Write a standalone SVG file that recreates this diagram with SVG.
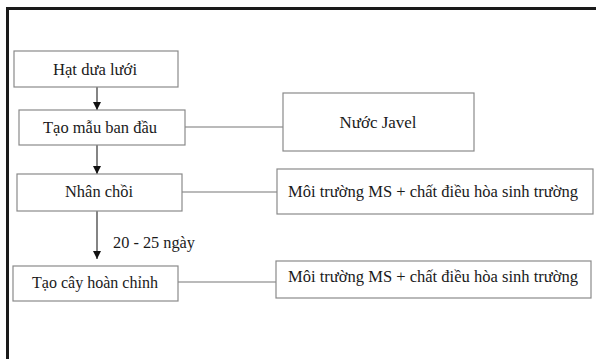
<svg xmlns="http://www.w3.org/2000/svg" width="596" height="359" viewBox="0 0 596 359">
<style>
.box{fill:#fff;stroke:#8a8a8a;stroke-width:1.2}
.t{font-family:"Liberation Serif","Times New Roman",serif;font-size:16px;fill:#1a1a1a;text-anchor:middle}
.ln{stroke:#777;stroke-width:1.2;fill:none}
.ar{stroke:#333;stroke-width:1.2;fill:none;marker-end:url(#ah)}
</style>
<defs>
<marker id="ah" viewBox="0 0 8 8" refX="8" refY="4" markerWidth="8" markerHeight="8" markerUnits="userSpaceOnUse" orient="auto">
<path d="M0,0 L8,4 L0,8 Z" fill="#111"/>
</marker>
</defs>
<rect width="596" height="359" fill="#fff"/>
<g id="frame">
<path d="M7.5,359 V8.5 H596" fill="none" stroke="#1a1a1a" stroke-width="3"/>
</g>
<g id="connectors">
<line class="ar" x1="97" y1="87" x2="97" y2="110"/>
<line class="ar" x1="97" y1="145" x2="97" y2="174"/>
<line class="ar" x1="97" y1="211" x2="97" y2="259"/>
<line class="ln" x1="185" y1="127" x2="283" y2="127"/>
<line class="ln" x1="182" y1="192" x2="277" y2="192"/>
<line class="ln" x1="178" y1="282" x2="276" y2="282"/>
<text class="t" x="154" y="248" textLength="82" lengthAdjust="spacingAndGlyphs">20 - 25 ngày</text>
</g>
<g id="n1">
<rect class="box" x="14" y="51" width="164" height="36"/>
<text class="t" x="95" y="75" textLength="84" lengthAdjust="spacingAndGlyphs">Hạt dưa lưới</text>
</g>
<g id="n2">
<rect class="box" x="19" y="110" width="166" height="35"/>
<text class="t" x="100" y="133" textLength="114" lengthAdjust="spacingAndGlyphs">Tạo mẫu ban đầu</text>
</g>
<g id="n3">
<rect class="box" x="17" y="174" width="165" height="37"/>
<text class="t" x="99" y="197" textLength="68" lengthAdjust="spacingAndGlyphs">Nhân chồi</text>
</g>
<g id="n4">
<rect class="box" x="13" y="266" width="165" height="35"/>
<text class="t" x="95" y="288" textLength="126" lengthAdjust="spacingAndGlyphs">Tạo cây hoàn chỉnh</text>
</g>
<g id="n5">
<rect class="box" x="283" y="93" width="191" height="58"/>
<text class="t" x="378" y="128" textLength="77" lengthAdjust="spacingAndGlyphs">Nước Javel</text>
</g>
<g id="n6">
<rect class="box" x="277" y="169" width="316" height="45"/>
<text class="t" x="433" y="197" textLength="290" lengthAdjust="spacingAndGlyphs">Môi trường MS + chất điều hòa sinh trường</text>
</g>
<g id="n7">
<rect class="box" x="276" y="261" width="315" height="37"/>
<text class="t" x="433" y="282" textLength="290" lengthAdjust="spacingAndGlyphs">Môi trường MS + chất điều hòa sinh trường</text>
</g>
</svg>
